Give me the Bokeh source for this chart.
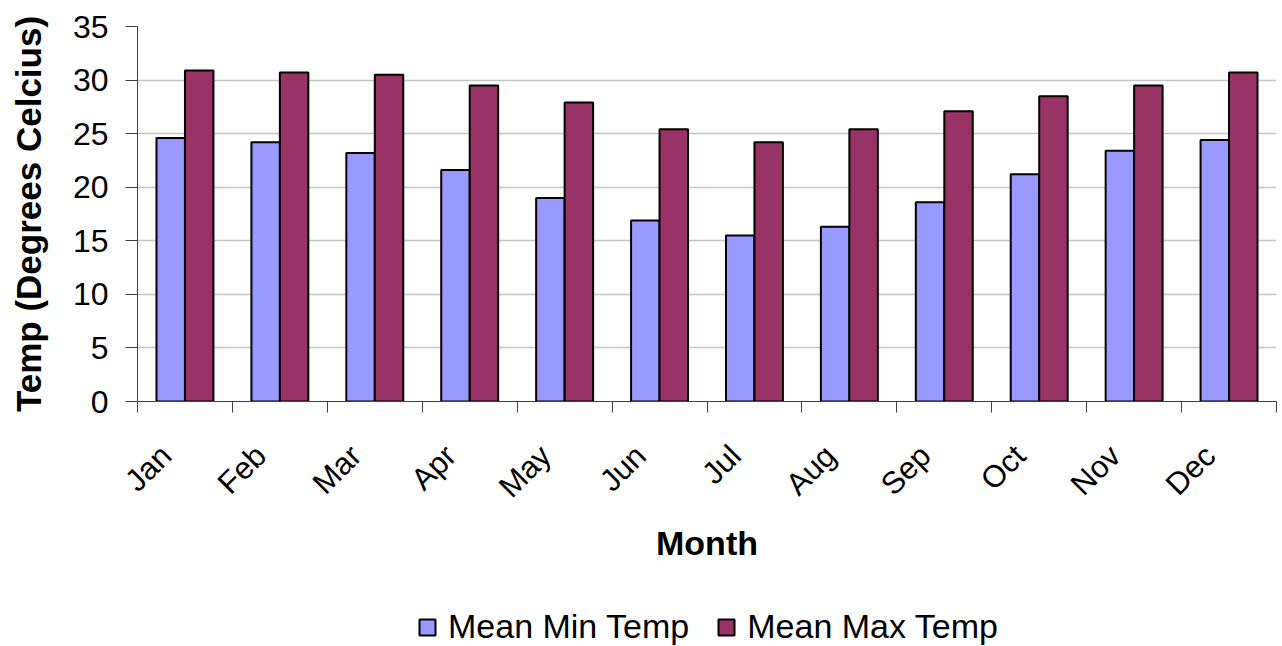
import numpy as np
from bokeh.plotting import figure
from bokeh.layouts import column
from bokeh.models import ColumnDataSource, FixedTicker, Legend, LegendItem
from bokeh.transform import dodge
from bokeh.embed import file_html
from bokeh.resources import INLINE

months = ["Jan", "Feb", "Mar", "Apr", "May", "Jun", "Jul", "Aug", "Sep", "Oct", "Nov", "Dec"]
mean_min = [24.6, 24.2, 23.2, 21.6, 19.0, 16.9, 15.5, 16.3, 18.6, 21.2, 23.4, 24.4]
mean_max = [30.9, 30.7, 30.5, 29.5, 27.9, 25.4, 24.2, 25.4, 27.1, 28.5, 29.5, 30.7]
y_ticks = [0, 5, 10, 15, 20, 25, 30, 35]
series_names = ["Mean Min Temp", "Mean Max Temp"]

FONT = "Liberation Sans"
MIN_COLOR = "#9999FF"
MAX_COLOR = "#993366"

centers = np.arange(len(months)) + 0.5
label_pos = centers - 0.2  # rotated labels sit a little left of the category centre
source = ColumnDataSource(dict(x=centers, mn=mean_min, mx=mean_max, month=months))

LEG_H = 58
p = figure(frame_width=1139, frame_height=375, x_range=(0, 12), y_range=(0, 35),
           output_backend="svg", toolbar_location=None,
           min_border_left=137, min_border_right=6, min_border_top=26,
           min_border_bottom=245 - LEG_H)
p.outline_line_color = None
p.background_fill_color = "white"

r_min = p.vbar(x=dodge("x", -0.15), top="mn", width=0.3, source=source,
               fill_color=MIN_COLOR, line_color="black", line_width=2)
r_max = p.vbar(x=dodge("x", 0.15), top="mx", width=0.3, source=source,
               fill_color=MAX_COLOR, line_color="black", line_width=2)

# x axis: ticks at category boundaries (minor), labels near centres
xa = p.xaxis[0]
xa.ticker = FixedTicker(ticks=list(label_pos), minor_ticks=list(range(len(months) + 1)))
xa.major_label_overrides = {float(c): m for c, m in zip(label_pos, months)}
xa.major_tick_line_color = None
xa.major_tick_out = 0
xa.minor_tick_out = 11
xa.minor_tick_in = 0
xa.minor_tick_line_color = "#404040"
xa.axis_line_color = "#404040"
xa.major_label_orientation = np.pi / 4
xa.major_label_text_font = FONT
xa.major_label_text_font_size = "31px"
xa.major_label_text_color = "black"
xa.major_label_standoff = 38
xa.axis_label = "Month"
xa.axis_label_text_font = FONT
xa.axis_label_text_font_size = "34px"
xa.axis_label_text_font_style = "bold"
xa.axis_label_text_color = "black"
xa.axis_label_standoff = 4

ya = p.yaxis[0]
ya.ticker = FixedTicker(ticks=y_ticks, minor_ticks=[])
ya.major_tick_out = 12
ya.major_tick_in = 0
ya.major_tick_line_color = "#404040"
ya.axis_line_color = "#404040"
ya.major_label_text_font = FONT
ya.major_label_text_font_size = "32px"
ya.major_label_text_color = "black"
ya.major_label_standoff = 17
ya.axis_label = "Temp (Degrees Celcius)"
ya.axis_label_text_font = FONT
ya.axis_label_text_font_size = "35px"
ya.axis_label_text_font_style = "bold"
ya.axis_label_text_color = "black"
ya.axis_label_standoff = 22

p.xgrid.grid_line_color = None
p.ygrid.ticker = FixedTicker(ticks=y_ticks[1:-1])
p.ygrid.grid_line_color = "#c4c4c4"
p.ygrid.grid_line_width = 1.5

# legend strip below the chart: its own small figure; its glyphs are zero-size and
# outside the view, so only the legend swatches and labels are visible
lf = figure(width=1282, height=LEG_H, x_range=(-3, -2), y_range=(-3, -2),
            output_backend="svg", toolbar_location=None,
            x_axis_type=None, y_axis_type=None,
            min_border_left=0, min_border_right=0, min_border_top=0, min_border_bottom=0)
lf.outline_line_color = None
lf.xgrid.visible = False
lf.ygrid.visible = False
l_min = lf.rect(x="x", y="mn", width=0, height=0, width_units="screen", height_units="screen",
                source=source, fill_color=MIN_COLOR, line_color="black", line_width=2)
l_max = lf.rect(x="x", y="mx", width=0, height=0, width_units="screen", height_units="screen",
                source=source, fill_color=MAX_COLOR, line_color="black", line_width=2)
legend = Legend(items=[LegendItem(label=series_names[0], renderers=[l_min]),
                       LegendItem(label=series_names[1], renderers=[l_max])],
                orientation="horizontal", location=(280, 0),
                label_text_font=FONT, label_text_font_size="34px",
                label_text_color="black", glyph_width=20, glyph_height=20,
                spacing=27, label_standoff=11, border_line_color=None,
                background_fill_alpha=0, margin=0, padding=0)
lf.add_layout(legend, "center")

layout = column(p, lf, spacing=0)
open("out.html", "w").write(file_html(layout, INLINE))
